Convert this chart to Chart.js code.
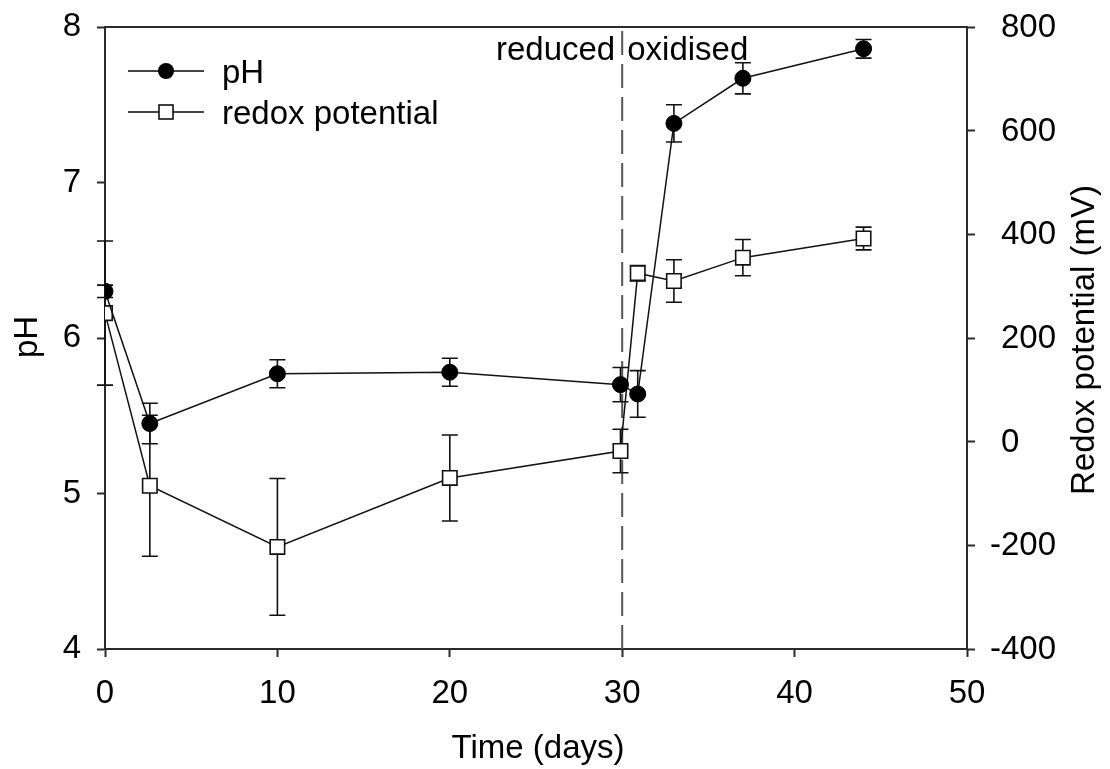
<!DOCTYPE html>
<html>
<head>
<meta charset="utf-8">
<title>pH and redox potential</title>
<script src="https://cdn.jsdelivr.net/npm/chart.js@4.4.1/dist/chart.umd.min.js"></script>
<style>
    body { margin: 0; background: #fff; }
    canvas { display: block; }
</style>
</head>
<body>
<canvas id="redox-chart" width="1110" height="769"></canvas>
<script>
const days = [0, 2.6, 10, 20, 29.9, 30.9, 33, 37, 44];
const phValues = [6.30, 5.45, 5.77, 5.78, 5.70, 5.64, 7.38, 7.67, 7.86];
const phErrors = [0.04, 0.13, 0.09, 0.09, 0.11, 0.15, 0.12, 0.10, 0.06];
const redoxValues = [248, -85, -203, -70, -18, 325, 310, 355, 392];
const redoxErrors = [139, 136, 132, 83, 42, 15, 41, 35, 22];

const timeTicks = [0, 10, 20, 30, 40, 50];
const phTicks = [4, 5, 6, 7, 8];
const redoxTicks = [-400, -200, 0, 200, 400, 600, 800];
const switchDay = 30;

const fontFamily = '"Liberation Sans", Arial, Helvetica, sans-serif';
const fontSize = 33;
const axisColor = '#2b2b2b';
const inkColor = '#111';

function toPoints(xs, ys) {
    return xs.map(function(x, i) { return { x: x, y: ys[i] }; });
}

function fixTicks(values) {
    return function(scale) {
        scale.ticks = values.map(function(v) { return { value: v }; });
    };
}

// fixed box sizes so the plot area sits at the same place every time
function fixWidth(w) {
    return function(scale) {
        scale.width = w;
        scale.paddingTop = 0;
        scale.paddingBottom = 0;
    };
}

// error bars, the day-30 divider and the frame line on top
const decorPlugin = {
    id: 'decor',
    beforeDatasetsDraw: function(chart) {
        const ctx = chart.ctx;
        const area = chart.chartArea;
        const xs = chart.scales.x;

        ctx.save();
        ctx.strokeStyle = '#555';
        ctx.lineWidth = 2;
        ctx.setLineDash([24, 9]);
        const xLine = xs.getPixelForValue(switchDay);
        ctx.beginPath();
        ctx.moveTo(xLine, area.bottom);
        ctx.lineTo(xLine, area.top);
        ctx.stroke();
        ctx.restore();

        const bars = [
            { scale: chart.scales.y, values: phValues, errors: phErrors },
            { scale: chart.scales.y1, values: redoxValues, errors: redoxErrors }
        ];
        ctx.save();
        ctx.strokeStyle = inkColor;
        ctx.lineWidth = 1.6;
        bars.forEach(function(b) {
            days.forEach(function(d, i) {
                const px = xs.getPixelForValue(d);
                const top = b.scale.getPixelForValue(b.values[i] + b.errors[i]);
                const bottom = b.scale.getPixelForValue(b.values[i] - b.errors[i]);
                ctx.beginPath();
                ctx.moveTo(px, top);
                ctx.lineTo(px, bottom);
                ctx.moveTo(px - 8, top);
                ctx.lineTo(px + 8, top);
                ctx.moveTo(px - 8, bottom);
                ctx.lineTo(px + 8, bottom);
                ctx.stroke();
            });
        });
        ctx.restore();
    },
    afterDraw: function(chart) {
        const ctx = chart.ctx;
        const area = chart.chartArea;

        ctx.save();
        ctx.strokeStyle = axisColor;
        ctx.lineWidth = 2;
        ctx.beginPath();
        ctx.moveTo(area.left, area.top);
        ctx.lineTo(area.right, area.top);
        ctx.stroke();

        ctx.fillStyle = '#000';
        ctx.font = fontSize + 'px ' + fontFamily;

        // right axis labels, digits lined up and the minus sign hanging left
        const ry = chart.scales.y1;
        const minusWidth = ctx.measureText('-').width;
        ctx.textAlign = 'left';
        ctx.textBaseline = 'middle';
        redoxTicks.forEach(function(v) {
            const x = area.right + 34;
            ctx.fillText(String(v), v < 0 ? x - minusWidth : x, ry.getPixelForValue(v) + 1);
        });

        // axis titles
        ctx.textAlign = 'center';
        ctx.textBaseline = 'alphabetic';
        ctx.fillText('Time (days)', (area.left + area.right) / 2 + 2, 758);

        ctx.save();
        ctx.translate(37, 337);
        ctx.rotate(-Math.PI / 2);
        ctx.fillText('pH', 0, 0);
        ctx.restore();

        ctx.save();
        ctx.translate(1094, 340);
        ctx.rotate(-Math.PI / 2);
        ctx.fillText('Redox potential (mV)', 0, 0);
        ctx.restore();

        // phase labels either side of the divider
        const xLine = chart.scales.x.getPixelForValue(switchDay);
        ctx.textAlign = 'right';
        ctx.fillText('reduced', xLine - 7, 60);
        ctx.textAlign = 'left';
        ctx.fillText('oxidised', xLine + 5, 60);

        // legend
        const rows = [
            { label: 'pH', y: 71, square: false },
            { label: 'redox potential', y: 112, square: true }
        ];
        rows.forEach(function(r) {
            ctx.strokeStyle = '#444';
            ctx.lineWidth = 2;
            ctx.beginPath();
            ctx.moveTo(128, r.y);
            ctx.lineTo(204, r.y);
            ctx.stroke();
            ctx.lineWidth = 1.6;
            ctx.strokeStyle = inkColor;
            if (r.square) {
                ctx.fillStyle = '#fff';
                ctx.fillRect(159, r.y - 7, 14, 14);
                ctx.strokeRect(159, r.y - 7, 14, 14);
            } else {
                ctx.fillStyle = '#000';
                ctx.beginPath();
                ctx.arc(166, r.y, 8, 0, Math.PI * 2);
                ctx.fill();
            }
            ctx.fillStyle = '#000';
            ctx.textAlign = 'left';
            ctx.fillText(r.label, 222, r.y + 12);
        });
        ctx.restore();
    }
};

const axisGrid = {
    drawOnChartArea: false,
    tickLength: 8,
    tickColor: axisColor,
    tickWidth: 2
};
const axisBorder = { color: axisColor, width: 2 };
const tickFont = { family: fontFamily, size: fontSize };

const redoxChart = new Chart(document.getElementById('redox-chart'), {
    type: 'line',
    data: {
        datasets: [
            {
                label: 'pH',
                data: toPoints(days, phValues),
                yAxisID: 'y',
                borderColor: inkColor,
                borderWidth: 1.5,
                tension: 0,
                pointStyle: 'circle',
                pointRadius: 8,
                pointBackgroundColor: '#000',
                pointBorderColor: '#000',
                pointBorderWidth: 1
            },
            {
                label: 'redox potential',
                data: toPoints(days, redoxValues),
                yAxisID: 'y1',
                borderColor: inkColor,
                borderWidth: 1.5,
                tension: 0,
                pointStyle: 'rect',
                pointRadius: 10.2,
                pointBackgroundColor: '#fff',
                pointBorderColor: inkColor,
                pointBorderWidth: 1.6
            }
        ]
    },
    options: {
        responsive: false,
        animation: false,
        devicePixelRatio: 1,
        layout: { padding: { top: 27, left: 0, right: 0, bottom: 0 } },
        plugins: {
            legend: { display: false },
            tooltip: { enabled: false }
        },
        scales: {
            x: {
                type: 'linear',
                min: 0,
                max: 50,
                afterBuildTicks: fixTicks(timeTicks),
                afterFit: function(scale) {
                    scale.height = 120;
                    scale.paddingLeft = 0;
                    scale.paddingRight = 0;
                },
                grid: axisGrid,
                border: axisBorder,
                ticks: { font: tickFont, color: '#000', padding: 17, maxRotation: 0 }
            },
            y: {
                position: 'left',
                min: 4,
                max: 8,
                afterBuildTicks: fixTicks(phTicks),
                afterFit: fixWidth(105),
                grid: axisGrid,
                border: axisBorder,
                ticks: { font: tickFont, color: '#000', padding: 16 }
            },
            y1: {
                position: 'right',
                min: -400,
                max: 800,
                afterBuildTicks: fixTicks(redoxTicks),
                afterFit: fixWidth(143),
                grid: axisGrid,
                border: axisBorder,
                ticks: { font: tickFont, color: 'rgba(0,0,0,0)', padding: 16 }
            }
        }
    },
    plugins: [decorPlugin]
});
</script>
</body>
</html>
